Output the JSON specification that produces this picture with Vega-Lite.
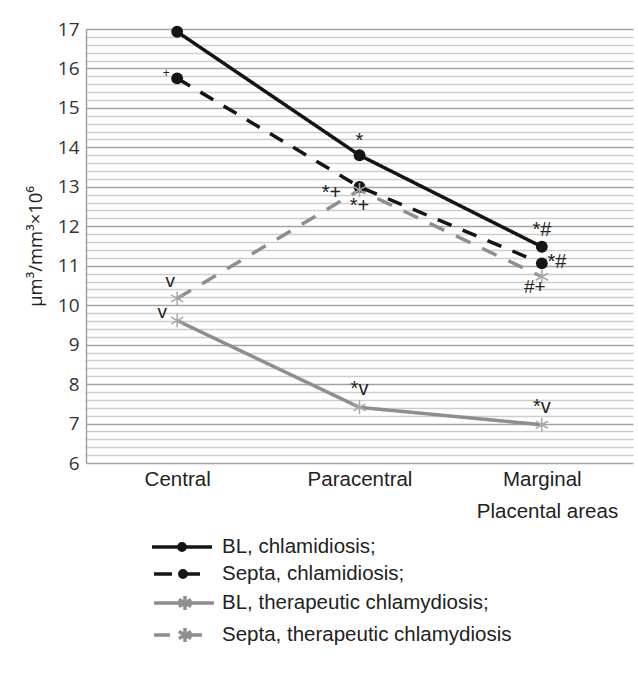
{
  "$schema": "https://vega.github.io/schema/vega-lite/v6.json",
  "width": 547,
  "height": 434,
  "autosize": {"type": "none"},
  "padding": {"left": 86, "top": 29, "right": 5, "bottom": 211},
  "background": "white",
  "config": {"view": {"stroke": null}, "font": "Liberation Sans"},
  "datasets": {
    "series": [
      {"series": "BL, therapeutic chlamydiosis;", "area": "Central", "value": 9.61},
      {"series": "BL, therapeutic chlamydiosis;", "area": "Paracentral", "value": 7.41},
      {"series": "BL, therapeutic chlamydiosis;", "area": "Marginal", "value": 6.97},
      {"series": "Septa, therapeutic chlamydiosis", "area": "Central", "value": 10.17},
      {"series": "Septa, therapeutic chlamydiosis", "area": "Paracentral", "value": 12.92},
      {"series": "Septa, therapeutic chlamydiosis", "area": "Marginal", "value": 10.72},
      {"series": "Septa, chlamidiosis;", "area": "Central", "value": 15.75},
      {"series": "Septa, chlamidiosis;", "area": "Paracentral", "value": 13.0},
      {"series": "Septa, chlamidiosis;", "area": "Marginal", "value": 11.06},
      {"series": "BL, chlamidiosis;", "area": "Central", "value": 16.93},
      {"series": "BL, chlamidiosis;", "area": "Paracentral", "value": 13.8},
      {"series": "BL, chlamidiosis;", "area": "Marginal", "value": 11.48}
    ],
    "notes": [
      {"area": "Paracentral", "value": 14.0, "label": "*", "pos": "c"},
      {"area": "Paracentral", "value": 12.36, "label": "*+", "pos": "c"},
      {"area": "Marginal", "value": 11.75, "label": "*#", "pos": "c"},
      {"area": "Paracentral", "value": 7.72, "label": "*v", "pos": "c"},
      {"area": "Marginal", "value": 7.27, "label": "*v", "pos": "c"},
      {"area": "Central", "value": 10.46, "label": "v", "pos": "l1"},
      {"area": "Marginal", "value": 10.31, "label": "#+", "pos": "l1"},
      {"area": "Central", "value": 9.67, "label": "v", "pos": "l2"},
      {"area": "Paracentral", "value": 12.7, "label": "*+", "pos": "l3"},
      {"area": "Marginal", "value": 10.95, "label": "*#", "pos": "r"},
      {"area": "Central", "value": 15.78, "label": "+", "pos": "s"}
    ]
  },
  "resolve": {"scale": {"color": "independent", "shape": "independent", "fill": "independent", "stroke": "independent", "strokeDash": "independent"}},
  "layer": [
    {
      "data": {"name": "series"},
      "mark": {"type": "line", "strokeWidth": 3.5, "strokeCap": "butt"},
      "encoding": {
        "x": {
          "field": "area", "type": "nominal",
          "sort": ["Central", "Paracentral", "Marginal"],
          "scale": {"type": "point", "padding": 0.5},
          "axis": {
            "title": "Placental areas", "labelAngle": 0, "ticks": false, "domain": false, "grid": false,
            "labelFont": "Liberation Sans", "labelFontSize": 20.5, "labelColor": "#222", "labelPadding": 6,
            "titleFont": "Liberation Sans", "titleFontSize": 20.5, "titleFontWeight": "normal", "titleColor": "#222",
            "titleX": 461, "titleY": 38, "titleAlign": "center", "titleBaseline": "top", "titleAnchor": null
          }
        },
        "y": {
          "field": "value", "type": "quantitative",
          "scale": {"domain": [6, 17], "nice": false, "zero": false},
          "axis": {
            "values": [6, 6.2, 6.4, 6.6, 6.8, 7, 7.2, 7.4, 7.6, 7.8, 8, 8.2, 8.4, 8.6, 8.8, 9, 9.2, 9.4, 9.6, 9.8, 10, 10.2, 10.4, 10.6, 10.8, 11, 11.2, 11.4, 11.6, 11.8, 12, 12.2, 12.4, 12.6, 12.8, 13, 13.2, 13.4, 13.6, 13.8, 14, 14.2, 14.4, 14.6, 14.8, 15, 15.2, 15.4, 15.6, 15.8, 16, 16.2, 16.4, 16.6, 16.8, 17],
            "tickCount": 100,
            "grid": true,
            "gridColor": {"condition": {"test": "abs(datum.value - round(datum.value)) < 0.01", "value": "#a3a3a3"}, "value": "#cdcdcd"},
            "gridWidth": 1.5,
            "ticks": false,
            "domain": true, "domainColor": "#a3a3a3", "domainWidth": 1.5,
            "labelExpr": "abs(datum.value - round(datum.value)) < 0.01 ? format(datum.value, 'd') : ''",
            "labelOverlap": false,
            "labelFont": "Open Sans", "labelFontSize": 19, "labelColor": "#333", "labelPadding": 7,
            "title": "μm³/mm³×10⁶", "titleFont": "Open Sans", "titleFontSize": 18.5, "titleFontWeight": "normal", "titleColor": "#222", "titlePadding": 12
          }
        },
        "color": {
          "field": "series", "type": "nominal", "legend": null,
          "scale": {"domain": ["BL, chlamidiosis;", "Septa, chlamidiosis;", "BL, therapeutic chlamydiosis;", "Septa, therapeutic chlamydiosis"], "range": ["#151515", "#151515", "#8e8e8e", "#8e8e8e"]}
        },
        "strokeDash": {
          "field": "series", "type": "nominal", "legend": null,
          "scale": {"domain": ["BL, chlamidiosis;", "Septa, chlamidiosis;", "BL, therapeutic chlamydiosis;", "Septa, therapeutic chlamydiosis"], "range": [[1, 0], [15, 12], [1, 0], [16, 13]]}
        }
      }
    },
    {
      "data": {"name": "series"},
      "transform": [{"filter": "indexof(datum.series, 'therapeutic') < 0"}],
      "mark": {"type": "point", "shape": "circle", "filled": true, "size": 140, "color": "#151515", "opacity": 1},
      "encoding": {
        "x": {"field": "area", "type": "nominal", "sort": ["Central", "Paracentral", "Marginal"]},
        "y": {"field": "value", "type": "quantitative"}
      }
    },
    {
      "data": {"name": "series"},
      "transform": [{"filter": "indexof(datum.series, 'therapeutic') >= 0"}],
      "mark": {"type": "point", "shape": "M0,-1V1M-0.87,-0.5L0.87,0.5M-0.87,0.5L0.87,-0.5", "filled": false, "size": 196, "stroke": "#a8a8a8", "strokeWidth": 1.5, "opacity": 1},
      "encoding": {
        "x": {"field": "area", "type": "nominal", "sort": ["Central", "Paracentral", "Marginal"]},
        "y": {"field": "value", "type": "quantitative"}
      }
    },
    {
      "data": {"name": "notes"},
      "transform": [{"filter": "datum.pos === 'c'"}],
      "mark": {"type": "text", "fontSize": 20, "color": "#222", "baseline": "alphabetic", "align": "center", "dx": 0},
      "encoding": {
        "x": {"field": "area", "type": "nominal", "sort": ["Central", "Paracentral", "Marginal"]},
        "y": {"field": "value", "type": "quantitative"},
        "text": {"field": "label"}
      }
    },
    {
      "data": {"name": "notes"},
      "transform": [{"filter": "datum.pos === 'l1'"}],
      "mark": {"type": "text", "fontSize": 19, "color": "#222", "baseline": "alphabetic", "align": "center", "dx": -7},
      "encoding": {
        "x": {"field": "area", "type": "nominal", "sort": ["Central", "Paracentral", "Marginal"]},
        "y": {"field": "value", "type": "quantitative"},
        "text": {"field": "label"}
      }
    },
    {
      "data": {"name": "notes"},
      "transform": [{"filter": "datum.pos === 'l2'"}],
      "mark": {"type": "text", "fontSize": 19, "color": "#222", "baseline": "alphabetic", "align": "center", "dx": -15},
      "encoding": {
        "x": {"field": "area", "type": "nominal", "sort": ["Central", "Paracentral", "Marginal"]},
        "y": {"field": "value", "type": "quantitative"},
        "text": {"field": "label"}
      }
    },
    {
      "data": {"name": "notes"},
      "transform": [{"filter": "datum.pos === 'l3'"}],
      "mark": {"type": "text", "fontSize": 20, "color": "#222", "baseline": "alphabetic", "align": "center", "dx": -28},
      "encoding": {
        "x": {"field": "area", "type": "nominal", "sort": ["Central", "Paracentral", "Marginal"]},
        "y": {"field": "value", "type": "quantitative"},
        "text": {"field": "label"}
      }
    },
    {
      "data": {"name": "notes"},
      "transform": [{"filter": "datum.pos === 'r'"}],
      "mark": {"type": "text", "fontSize": 20, "color": "#222", "baseline": "alphabetic", "align": "center", "dx": 15},
      "encoding": {
        "x": {"field": "area", "type": "nominal", "sort": ["Central", "Paracentral", "Marginal"]},
        "y": {"field": "value", "type": "quantitative"},
        "text": {"field": "label"}
      }
    },
    {
      "data": {"name": "notes"},
      "transform": [{"filter": "datum.pos === 's'"}],
      "mark": {"type": "text", "fontSize": 12, "color": "#222", "baseline": "alphabetic", "align": "center", "dx": -11},
      "encoding": {
        "x": {"field": "area", "type": "nominal", "sort": ["Central", "Paracentral", "Marginal"]},
        "y": {"field": "value", "type": "quantitative"},
        "text": {"field": "label"}
      }
    },
    {
      "data": {"name": "series"},
      "transform": [{"filter": "false"}],
      "mark": {"type": "point", "opacity": 1, "strokeWidth": 3.5, "size": 400},
      "encoding": {
        "shape": {
          "field": "series", "type": "nominal",
          "scale": {"domain": ["BL, chlamidiosis;", "Septa, chlamidiosis;", "BL, therapeutic chlamydiosis;", "Septa, therapeutic chlamydiosis"],
            "range": [
              "M-3,0H3M-0.32,0A0.32,0.32 0 1,0 0.32,0A0.32,0.32 0 1,0 -0.32,0Z",
              "M-2.8,0H-1M0.1,0H1.8M-0.22,0A0.32,0.32 0 1,0 0.42,0A0.32,0.32 0 1,0 -0.22,0Z",
              "M-2.8,0H3.2M0.3,-0.7V0.7M-0.31,-0.35L0.91,0.35M-0.31,0.35L0.91,-0.35",
              "M-2.8,0H-1.2M0.5,0H2M0.3,-0.7V0.7M-0.31,-0.35L0.91,0.35M-0.31,0.35L0.91,-0.35"
            ]},
          "legend": {
            "orient": "none", "legendX": 84, "legendY": 506, "title": null,
            "labelFont": "Liberation Sans", "labelFontSize": 20.5, "labelColor": "#222", "labelLimit": 400,
            "symbolSize": 400, "symbolStrokeWidth": 3.5, "labelOffset": 28, "rowPadding": 4
          }
        },
        "fill": {
          "field": "series", "type": "nominal",
          "scale": {"domain": ["BL, chlamidiosis;", "Septa, chlamidiosis;", "BL, therapeutic chlamydiosis;", "Septa, therapeutic chlamydiosis"], "range": ["#151515", "#151515", "#8e8e8e", "#8e8e8e"]},
          "legend": {
            "orient": "none", "legendX": 84, "legendY": 506, "title": null,
            "labelFont": "Liberation Sans", "labelFontSize": 20.5, "labelColor": "#222", "labelLimit": 400,
            "symbolSize": 400, "symbolStrokeWidth": 3.5, "labelOffset": 28, "rowPadding": 4
          }
        },
        "stroke": {
          "field": "series", "type": "nominal",
          "scale": {"domain": ["BL, chlamidiosis;", "Septa, chlamidiosis;", "BL, therapeutic chlamydiosis;", "Septa, therapeutic chlamydiosis"], "range": ["#151515", "#151515", "#8e8e8e", "#8e8e8e"]},
          "legend": {
            "orient": "none", "legendX": 84, "legendY": 506, "title": null,
            "labelFont": "Liberation Sans", "labelFontSize": 20.5, "labelColor": "#222", "labelLimit": 400,
            "symbolSize": 400, "symbolStrokeWidth": 3.5, "labelOffset": 28, "rowPadding": 4
          }
        }
      }
    }
  ]
}
